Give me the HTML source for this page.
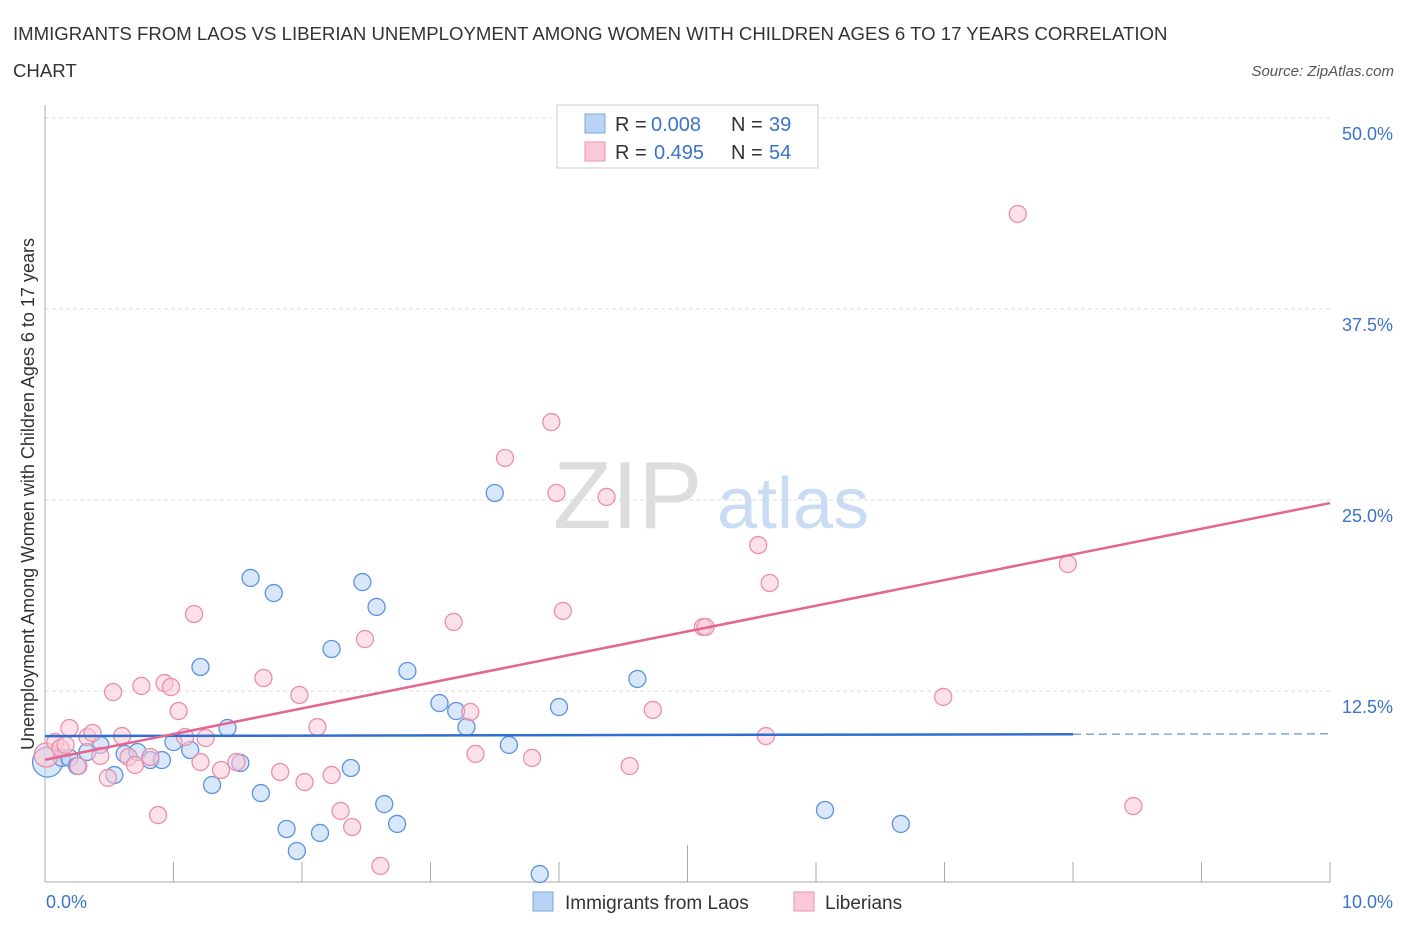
<!DOCTYPE html>
<html><head><meta charset="utf-8"><style>
body{margin:0;background:#fff;font-family:"Liberation Sans",sans-serif;}
svg text{font-family:"Liberation Sans",sans-serif;}
</style></head><body>
<svg width="1406" height="930" viewBox="0 0 1406 930" xmlns="http://www.w3.org/2000/svg">
<text x="13" y="40" font-size="18.6" fill="#333">IMMIGRANTS FROM LAOS VS LIBERIAN UNEMPLOYMENT AMONG WOMEN WITH CHILDREN AGES 6 TO 17 YEARS CORRELATION</text>
<text x="13" y="77" font-size="18.6" fill="#333">CHART</text>
<text x="1394" y="76" font-size="15" fill="#555" text-anchor="end" font-style="italic">Source: ZipAtlas.com</text>
<g>
<text x="553" y="528" font-size="96" fill="#ddd" font-family="Liberation Serif, serif">ZIP</text>
<text x="717" y="528" font-size="72" fill="#c9dcf3">atlas</text>
</g>
<g id="grid"></g>
<g id="axes"></g>
<g id="marks"></g>
<g>
<rect x="557" y="105" width="261" height="63" fill="#fff" stroke="#ccc"/>
<rect x="585" y="114" width="20" height="19" fill="#b9d3f5" stroke="#7aa7e0"/>
<rect x="585" y="142" width="20" height="19" fill="#fbc9d6" stroke="#e896ae"/>
<text x="615" y="131" font-size="20" fill="#333">R =</text>
<text x="651" y="131" font-size="20" fill="#3b73c8">0.008</text>
<text x="731" y="131" font-size="20" fill="#333">N =</text>
<text x="769" y="131" font-size="20" fill="#3b73c8">39</text>
<text x="615" y="159" font-size="20" fill="#333">R =</text>
<text x="654" y="159" font-size="20" fill="#3b73c8">0.495</text>
<text x="731" y="159" font-size="20" fill="#333">N =</text>
<text x="769" y="159" font-size="20" fill="#3b73c8">54</text>
</g>
<text transform="translate(34,494) rotate(-90)" font-size="18" fill="#333" text-anchor="middle">Unemployment Among Women with Children Ages 6 to 17 years</text>
<g>
<rect x="533" y="892" width="20" height="19" fill="#b9d3f5" stroke="#7aa7e0"/>
<text x="565" y="909" font-size="19" fill="#333">Immigrants from Laos</text>
<rect x="794" y="892" width="20" height="19" fill="#fbc9d6" stroke="#e896ae"/>
<text x="825" y="909" font-size="19" fill="#333">Liberians</text>
</g>
</svg>
<script>
const blueX=[0.02,0.13,0.19,0.43,0.33,0.25,0.54,0.62,0.72,0.82,0.91,1.0,1.13,1.21,1.30,1.42,1.52,1.60,1.68,1.78,1.88,1.96,2.14,2.23,2.38,2.47,2.58,2.64,2.74,2.82,3.07,3.20,3.28,3.50,3.61,3.85,4.0,4.61,6.07,6.66];
const blueY=[7.85,8.12,8.12,8.97,8.51,7.59,7.0,8.38,8.51,7.98,7.98,9.16,8.64,14.07,6.35,10.08,7.79,19.9,5.82,18.91,3.47,2.03,3.21,15.25,7.46,19.63,18.0,5.1,3.8,13.81,11.71,11.19,10.14,25.46,8.97,0.52,11.45,13.29,4.71,3.8];
const pinkX=[0.01,0.08,0.12,0.16,0.19,0.26,0.33,0.37,0.43,0.49,0.53,0.60,0.65,0.70,0.75,0.82,0.88,0.93,0.98,1.04,1.09,1.16,1.21,1.25,1.37,1.49,1.70,1.83,1.98,2.02,2.12,2.23,2.30,2.39,2.49,2.61,3.18,3.31,3.35,3.58,3.79,3.94,3.98,4.03,4.37,4.55,4.73,5.12,5.14,5.55,5.61,5.64,6.99,7.57,7.96,8.47];
const pinkY=[8.31,9.16,8.77,8.97,10.08,7.59,9.49,9.75,8.25,6.81,12.43,9.55,8.18,7.66,12.83,8.18,4.38,13.02,12.76,11.19,9.49,17.54,7.85,9.42,7.33,7.85,13.35,7.2,12.24,6.54,10.14,7.0,4.65,3.6,15.9,1.05,17.02,11.13,8.38,27.75,8.12,30.1,25.46,17.74,25.2,7.59,11.26,16.69,16.69,22.05,9.55,19.57,12.11,43.72,20.81,4.97];
const yTicks=[12.5,25,37.5,50];
const yTickLabels=["12.5%","25.0%","37.5%","50.0%"];
const xTickLabels=["0.0%","10.0%"];
const blueTrend=[9.55,9.7];
const pinkTrend=[8.0,24.8];
const NS="http://www.w3.org/2000/svg";
const L=45,R=1330,T=118,B=882;
const sx=v=>L+v/10*(R-L), sy=v=>B-v/50*(B-T);
function mk(tag,attrs,parent){const e=document.createElementNS(NS,tag);for(const k in attrs)e.setAttribute(k,attrs[k]);document.getElementById(parent).appendChild(e);return e;}
yTicks.forEach((t,i)=>{
 const g=mk('line',{x1:L,x2:R,y1:sy(t),y2:sy(t),stroke:'#ddd','stroke-dasharray':'4,3'},'grid');
 
 
 const tx=mk('text',{x:1393,y:sy(t)+22,'font-size':18,fill:'#3b73c8','text-anchor':'end'},'axes');
 tx.textContent=yTickLabels[i];
 
 
});
const yl=mk('line',{x1:L,x2:L,y1:105,y2:B,stroke:'#aaa'},'axes');


const xl=mk('line',{x1:L,x2:R,y1:B,y2:B,stroke:'#aaa'},'axes');


for(let i=1;i<=10;i++){
 const tk=mk('line',{x1:sx(i),x2:sx(i),y1:i==5?845:862,y2:B,stroke:'#aaa'},'axes');
 
 
}
[[0,'start',46],[10,'end',1393]].forEach((d,i)=>{
 const t=mk('text',{x:d[2],y:908,'font-size':18,fill:'#3b73c8','text-anchor':d[1]},'axes');
 t.textContent=xTickLabels[i];
 
 
});
function dots(xs,ys,fill,stroke,name){
 xs.forEach((x,i)=>{
  const c=mk('circle',{cx:sx(x),cy:sy(ys[i]),r:i==0?(name=='blue-point'?15:12):8.5,fill:fill,'fill-opacity':0.55,stroke:stroke,'stroke-width':1.3},'marks');
  
  
 });
}
dots(blueX,blueY,'#b9d3f5','#5b93dc','blue-point');
dots(pinkX,pinkY,'#fbc9d6','#e98fab','pink-point');
const bt=mk('line',{x1:sx(0),y1:sy(blueTrend[0]),x2:sx(8),y2:sy(blueTrend[0]+(blueTrend[1]-blueTrend[0])*0.8),stroke:'#2f6fd0','stroke-width':2.5},'marks');


const bd=mk('line',{x1:sx(8),y1:sy(blueTrend[0]+(blueTrend[1]-blueTrend[0])*0.8),x2:sx(10),y2:sy(blueTrend[1]),stroke:'#7aa7e0','stroke-width':1.5,'stroke-dasharray':'8,5'},'marks');


const pt=mk('line',{x1:sx(0),y1:sy(pinkTrend[0]),x2:sx(10),y2:sy(pinkTrend[1]),stroke:'#e4658f','stroke-width':2.5},'marks');


</script>
</body></html>
